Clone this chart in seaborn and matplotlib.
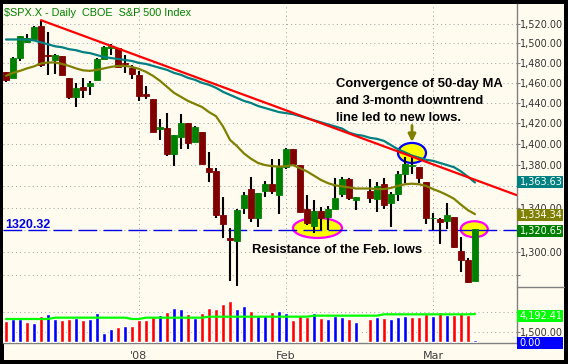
import numpy as np
import pandas as pd
import matplotlib
matplotlib.use("Agg")
import matplotlib.pyplot as plt
import seaborn as sns
from matplotlib.patches import Ellipse, Rectangle
from matplotlib.lines import Line2D
from matplotlib.transforms import IdentityTransform
from matplotlib.ticker import FixedLocator, NullLocator, FuncFormatter

nan = np.nan

# --- values (daily $SPX, Dec 2007 - Mar 2008) ---
dates = ["2007-12-04", "2007-12-05", "2007-12-06", "2007-12-07", "2007-12-10", "2007-12-11",
         "2007-12-12", "2007-12-13", "2007-12-14", "2007-12-17", "2007-12-18", "2007-12-19",
         "2007-12-20", "2007-12-21", "2007-12-24", "2007-12-26", "2007-12-27", "2007-12-28",
         "2007-12-31", "2008-01-02", "2008-01-03", "2008-01-04", "2008-01-07", "2008-01-08",
         "2008-01-09", "2008-01-10", "2008-01-11", "2008-01-14", "2008-01-15", "2008-01-16",
         "2008-01-17", "2008-01-18", "2008-01-22", "2008-01-23", "2008-01-24", "2008-01-25",
         "2008-01-28", "2008-01-29", "2008-01-30", "2008-01-31", "2008-02-01", "2008-02-04",
         "2008-02-05", "2008-02-06", "2008-02-07", "2008-02-08", "2008-02-11", "2008-02-12",
         "2008-02-13", "2008-02-14", "2008-02-15", "2008-02-18", "2008-02-19", "2008-02-20",
         "2008-02-21", "2008-02-22", "2008-02-25", "2008-02-26", "2008-02-27", "2008-02-28",
         "2008-02-29", "2008-03-03", "2008-03-04", "2008-03-05", "2008-03-06", "2008-03-07",
         "2008-03-10", "2008-03-11"]

opens = [1471.3, 1465.0, 1485.0, 1501.0, 1505.0, 1517.5, 1487.6, 1483.3, 1486.6, 1465.1,
         1445.9, 1455.6, 1456.4, 1463.2, 1484.5, 1495.1, 1495.1, 1479.8, 1475.3, 1468.0,
         1449.0, 1444.0, 1414.1, 1415.7, 1390.3, 1406.8, 1419.9, 1401.6, 1411.9, 1377.4,
         1374.8, 1333.9, 1312.9, 1310.4, 1340.1, 1357.3, 1330.7, 1355.9, 1362.2, 1352.0,
         1378.6, 1395.4, 1380.3, 1339.5, 1324.0, 1336.9, 1331.9, 1339.1, 1353.1, 1367.3,
         1347.5, nan, 1355.9, 1348.4, 1362.2, 1344.2, 1352.8, 1371.8, 1378.9, 1378.2,
         1364.1, 1330.5, 1329.6, 1327.7, 1332.2, 1301.5, 1293.2, 1274.4]
highs = [1471.3, 1486.1, 1508.0, 1510.1, 1518.3, 1523.6, 1511.9, 1489.4, 1486.6, 1465.1,
         1460.2, 1464.4, 1461.5, 1485.4, 1497.6, 1498.9, 1495.1, 1488.1, 1477.8, 1471.8,
         1456.8, 1444.0, 1423.9, 1430.3, 1409.2, 1429.1, 1419.9, 1417.3, 1411.9, 1392.0,
         1377.7, 1350.3, 1322.1, 1339.1, 1355.2, 1368.6, 1354.0, 1364.9, 1385.9, 1385.6,
         1396.0, 1395.4, 1380.3, 1351.9, 1347.3, 1341.2, 1341.4, 1367.9, 1369.2, 1368.2,
         1350.0, nan, 1367.3, 1363.7, 1367.9, 1354.5, 1374.4, 1387.3, 1388.3, 1378.2,
         1364.1, 1335.1, 1331.0, 1344.7, 1332.2, 1313.2, 1295.0, 1320.7]
lows = [1460.7, 1465.0, 1482.2, 1500.0, 1505.0, 1475.6, 1468.2, 1469.2, 1467.8, 1443.6,
        1435.7, 1445.3, 1447.5, 1463.2, 1484.5, 1488.2, 1475.9, 1469.5, 1464.3, 1442.1,
        1443.7, 1411.2, 1403.5, 1388.3, 1378.7, 1395.3, 1394.8, 1401.6, 1380.6, 1364.3,
        1330.7, 1312.5, 1274.3, 1270.1, 1334.3, 1327.5, 1322.3, 1350.2, 1353.0, 1334.1,
        1375.9, 1379.7, 1336.3, 1324.3, 1316.8, 1320.3, 1320.3, 1339.1, 1350.2, 1347.3,
        1338.1, nan, 1345.0, 1336.6, 1339.2, 1322.6, 1346.0, 1363.2, 1372.0, 1363.2,
        1325.4, 1320.0, 1307.4, 1320.7, 1303.4, 1282.4, 1272.7, 1274.4]
closes = [1462.8, 1485.0, 1507.3, 1506.0, 1517.0, 1477.7, 1486.6, 1488.4, 1468.0, 1445.9,
          1455.0, 1453.0, 1460.1, 1484.5, 1496.5, 1497.7, 1476.3, 1478.5, 1468.4, 1447.2,
          1447.0, 1411.6, 1416.2, 1390.2, 1409.1, 1420.3, 1401.0, 1416.3, 1381.0, 1373.2,
          1333.3, 1325.2, 1310.5, 1338.6, 1352.1, 1330.6, 1354.0, 1362.3, 1355.8, 1378.6,
          1395.4, 1380.8, 1336.6, 1326.5, 1336.9, 1331.3, 1339.1, 1348.9, 1367.2, 1348.9,
          1350.0, nan, 1348.8, 1360.0, 1342.5, 1353.1, 1371.8, 1381.3, 1380.0, 1367.7,
          1330.6, 1331.3, 1326.8, 1333.7, 1304.3, 1293.4, 1273.4, 1320.65]
prev_close = 1472.4

ma50 = [1504, 1504, 1504, 1504, 1503, 1501, 1499, 1497, 1496, 1494,
        1493, 1491, 1490, 1488, 1486, 1485, 1484, 1483, 1482, 1480,
        1479, 1477, 1475, 1473, 1470, 1468, 1465, 1463, 1460, 1458,
        1455, 1451, 1448, 1445, 1442, 1440, 1437, 1435, 1433, 1431,
        1430, 1429, 1427, 1425, 1423, 1421, 1419, 1417, 1415, 1411,
        1409, 1408, 1406, 1405, 1403, 1399, 1395, 1392, 1389, 1387,
        1385, 1384, 1382, 1380, 1378, 1374, 1369, 1363.63]
ma20 = [1467, 1470, 1472, 1474.5, 1476.5, 1479.5, 1480.5, 1480.5, 1479, 1477,
        1474.5, 1472.5, 1472, 1473, 1474.5, 1476, 1477, 1477, 1476, 1474,
        1471, 1467, 1462, 1456, 1450, 1446, 1442, 1439, 1436, 1431,
        1427, 1417, 1404, 1398, 1391, 1386, 1382, 1380, 1379, 1378.5,
        1379, 1380, 1377, 1374, 1370, 1366, 1363, 1361, 1360, 1359,
        1358, 1358, 1358, 1357.5, 1357.5, 1358.5, 1360.5, 1362, 1362.5, 1362,
        1360.5, 1357.5, 1355, 1352, 1348.5, 1343, 1338, 1334.34]

volume = [3200, 3500, 3450, 3000, 2900, 3900, 4200, 3450, 3300, 3450,
          3600, 3300, 3450, 4350, 1350, 1950, 2250, 2400, 2400, 3300,
          3300, 3900, 4050, 4500, 5100, 4950, 4200,
          3600, 4350, 5100, 4950, 5700, 6150, 4950, 5400, 4650, 3900,
          4050, 4500, 4650, 4350, 3300, 4050, 3750, 4350, 3600, 3450,
          3900, 3750, 3450, 3000, nan, 3450, 3750,
          3600, 3450, 3750, 3900, 3750, 3750, 4200, 3900, 4500, 4050,
          4050, 4350, 4050, 300]
vol_ma = [3450] * 7 + [3650] * 11 + [3450] * 2 + [3650] * 9 + [3800] * 15 + \
         [3950] * 10 + [4150] * 13 + [4192.41]

# downtrend line from the Dec 11 high, running off the right edge
trend_pos = [5, 72.9]
trend_val = [1524, 1352]
support = 1320.32

month_starts = ["2008-01-02", "2008-02-01", "2008-03-03"]
month_labels = ["'08", "Feb", "Mar"]
week_starts = ["2007-12-10", "2007-12-17", "2007-12-24", "2008-01-07", "2008-01-14",
               "2008-01-22", "2008-01-28", "2008-02-11", "2008-02-18", "2008-02-25",
               "2008-03-10"]

price_ticks = list(range(1280, 1521, 20))
price_hidden = [1280, 1320, 1360]   # labels covered by the value tags
vol_ticks = [1500, 4500]
vol_hidden = [4500]

df = pd.DataFrame({"date": dates, "open": opens, "high": highs, "low": lows,
                   "close": closes, "volume": volume, "ma50": ma50, "ma20": ma20,
                   "vol_ma": vol_ma})
df["pos"] = np.arange(len(df))
bars = df.dropna(subset=["open"]).copy()
prev = np.r_[prev_close, bars["close"].values[:-1]]
bars["up_day"] = bars["close"].values >= prev
pos_of = dict(zip(df["date"], df["pos"]))

# --- styling ---
sns.set_theme(style="white")
plt.rcParams["font.family"] = ["DejaVu Sans"]

W, H = 568, 364
cream = "#FFFCEF"
grid_kw = dict(color="#A8A8A8", lw=0.75, ls=(0, (1, 3)))
teal, olive = "#008080", "#808000"
pix = IdentityTransform()

fig = plt.figure(figsize=(W / 100, H / 100), dpi=100, facecolor="black")
fig.add_artist(Rectangle((3.5, H - 360), 564 - 3.5, 356, transform=pix,
                         facecolor=cream, edgecolor="none", zorder=-5))
ax = fig.add_axes([3.5 / W, 1 - 287 / H, 513 / W, 283 / H])
axv = fig.add_axes([3.5 / W, 1 - 343 / H, 513 / W, 56 / H], sharex=ax)
for a in (ax, axv):
    a.set_facecolor(cream)
    for s in ("top", "left", "bottom"):
        a.spines[s].set_visible(False)
    a.spines["right"].set_color("#808080")
    a.spines["right"].set_linewidth(1.0)
axv.spines["bottom"].set_visible(True)
axv.spines["bottom"].set_color("#808080")
axv.spines["bottom"].set_linewidth(1.0)

ax.set_yscale("log")

# candles
body_col = np.where(bars["close"] >= bars["open"], "#008000", "#800000")
ax.vlines(bars["pos"], bars["low"], bars["high"], color="black", lw=1.5, zorder=3)
ax.bar(bars["pos"], (bars["close"] - bars["open"]).abs(),
       bottom=np.minimum(bars["open"], bars["close"]), width=0.78,
       color=body_col, edgecolor=body_col, linewidth=0.6, zorder=4)

# moving averages and trend line
sns.lineplot(data=df, x="pos", y="ma20", ax=ax, color=olive, lw=1.6, zorder=5)
sns.lineplot(data=df, x="pos", y="ma50", ax=ax, color=teal, lw=1.6, zorder=5)
sns.lineplot(x=trend_pos, y=trend_val, ax=ax, color="#FF0000", lw=1.6, zorder=6)
ax.axhline(support, color="#0000E6", lw=1.0, ls=(0, (13.5, 4.5)), zorder=2.5)

# volume
vol_col = np.where(bars["up_day"], "#0000FF", "#FF0000")
axv.bar(bars["pos"], bars["volume"], width=0.57, color=vol_col, zorder=3)
sns.lineplot(data=df, x="pos", y="vol_ma", ax=axv, color="#00FF00", lw=1.6, zorder=4)

for a in (ax, axv):
    a.set_xlabel("")
    a.set_ylabel("")

ax.set_xlim(-0.357, 72.93)
ax.set_ylim(1269.4, 1541)
axv.set_ylim(-150, 8250)

# axes ticks
ax.yaxis.tick_right()
ax.yaxis.set_major_locator(FixedLocator(price_ticks))
ax.yaxis.set_minor_locator(NullLocator())
ax.yaxis.set_major_formatter(FuncFormatter(
    lambda v, _: "" if round(v) in price_hidden else f"{v:,.2f}"))
ax.tick_params(axis="y", which="major", direction="out", length=2.2, width=0.8,
               color="#808080", labelsize=7, labelcolor="#333333", pad=0.5)
axv.yaxis.tick_right()
axv.yaxis.set_major_locator(FixedLocator(vol_ticks))
axv.yaxis.set_minor_locator(NullLocator())
axv.yaxis.set_major_formatter(FuncFormatter(
    lambda v, _: "" if round(v) in vol_hidden else f"{v:,.2f}"))
axv.tick_params(axis="y", which="major", direction="out", length=2.2, width=0.8,
                color="#808080", labelsize=7, labelcolor="#333333", pad=0.5)

axv.xaxis.set_major_locator(FixedLocator([pos_of[d] for d in month_starts]))
axv.xaxis.set_minor_locator(FixedLocator([pos_of[d] for d in week_starts]))
axv.set_xticklabels(month_labels)
axv.tick_params(axis="x", which="major", direction="out", length=5, width=0.8,
                color="#808080", labelsize=8, labelcolor="#404040", pad=0.5)
axv.tick_params(axis="x", which="minor", direction="out", length=2, width=0.8,
                color="#808080")
ax.tick_params(axis="x", which="both", length=0, labelbottom=False)

ax.grid(False)
axv.grid(False)
for p in price_ticks:
    ax.axhline(p, zorder=1, **grid_kw)
for v in vol_ticks:
    axv.axhline(v, zorder=1, **grid_kw)
for d in month_starts:
    ax.axvline(pos_of[d], zorder=1, **grid_kw)
    axv.axvline(pos_of[d], zorder=1, **grid_kw)

# highlight ellipses (size in pixels, centre in data)
def ring(x, y, w, h, edge):
    cx, cy = ax.transData.transform((x, y))
    ax.add_patch(Ellipse((cx, cy), w, h, transform=pix, facecolor="#FFFF00",
                         edgecolor=edge, lw=1.6, zorder=2))

ring(58, 1391.5, 28, 20, "#0000FF")
ring(44.5, 1321.8, 49, 20, "#FF00FF")
ring(66.9, 1320.65, 27, 16, "#FF00FF")

ax.annotate("", xy=(58, 1402), xytext=(58, 1418),
            arrowprops=dict(arrowstyle="-|>", color=olive, lw=2.0,
                            mutation_scale=11, shrinkA=0, shrinkB=0), zorder=7)

# value tags on the right
def tag(axis, value, text, bg, dy=0.0):
    yd = axis.transData.transform((0, value))[1] + dy
    fig.add_artist(Rectangle((516.8, yd - 6), 46.5, 12, transform=pix,
                             facecolor=bg, edgecolor="none", zorder=5))
    fig.text(519.5, yd, text, transform=pix, color="white", fontsize=7,
             va="center", ha="left", zorder=6)

tag(ax, ma50[-1], f"{ma50[-1]:,.2f}", teal)
tag(ax, ma20[-1], f"{ma20[-1]:,.2f}", olive, dy=-1.0)
tag(ax, closes[-1], f"{closes[-1]:,.2f}", "#008000", dy=-1.7)
tag(axv, vol_ma[-1], f"{vol_ma[-1]:,.2f}", "#00FF00", dy=-1.5)
tag(axv, 0, "0.00", "#0000FF", dy=-0.5)
fig.add_artist(Line2D([516.8, 564], [H - 287, H - 287], transform=pix,
                      color="#808080", lw=1.0, zorder=5))

# texts
def px_text(x, y, s, **kw):
    fig.text(x, H - y, s, transform=pix, va="baseline", ha="left", zorder=8, **kw)

px_text(4.5, 16, "$SPX.X - Daily  CBOE  S&P 500 Index", color="#008000",
        fontsize=7.8, family="Liberation Sans")
bold = dict(color="black", fontsize=9.4, family="Liberation Sans", weight="bold")
px_text(336, 87.3, "Convergence of 50-day MA", **bold)
px_text(336, 104.5, "and 3-month downtrend", **bold)
px_text(336, 121, "line led to new lows.", **bold)
px_text(252, 252.6, "Resistance of the Feb. lows", **bold)
px_text(5, 227.5, f"{support:.2f}", color="#0000E6", fontsize=9,
        family="Liberation Sans", weight="bold")

fig.savefig("out.png", dpi=100, facecolor="black")
